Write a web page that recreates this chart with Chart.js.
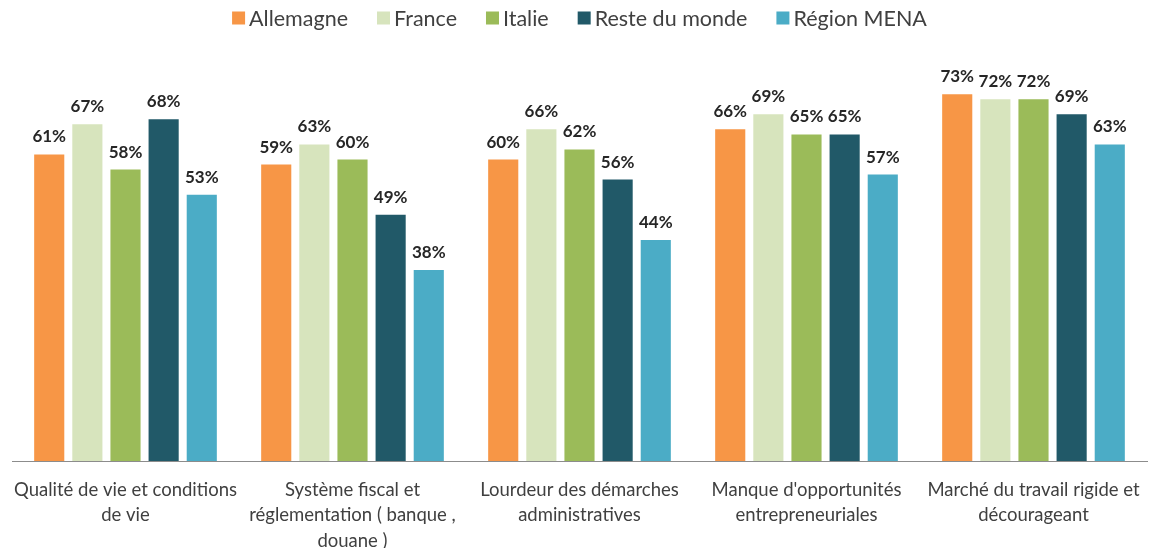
<!DOCTYPE html>
<html lang="fr">
<head>
<meta charset="utf-8">
<title>Freins à l'installation</title>
<script src="https://cdn.jsdelivr.net/npm/chart.js@4.4.1/dist/chart.umd.min.js"></script>
<style>
    html, body { margin: 0; padding: 0; background: #fff; }
    #wrap { width: 1150px; height: 548px; position: relative; }
</style>
</head>
<body>
<div id="wrap"><canvas id="freinsChart"></canvas></div>
<script>
const categories = [
    ['Qualité de vie et conditions', 'de vie'],
    ['Système fiscal et', 'réglementation ( banque ,', 'douane )'],
    ['Lourdeur des démarches', 'administratives'],
    ["Manque d'opportunités", 'entrepreneuriales'],
    ['Marché du travail rigide et', 'décourageant']
];
const seriesNames = ['Allemagne', 'France', 'Italie', 'Reste du monde', 'Région MENA'];
const allemagne = [61, 59, 60, 66, 73];
const france = [67, 63, 66, 69, 72];
const italie = [58, 60, 62, 65, 72];
const resteMonde = [68, 49, 56, 65, 69];
const regionMena = [53, 38, 44, 57, 63];
const seriesColors = ['#F79646', '#D7E4BD', '#9BBB59', '#215968', '#4BACC6'];

const FONT = 'Lato, "Open Sans", sans-serif';

// writes the percentage above each bar
const valueLabels = {
    id: 'valueLabels',
    afterDatasetsDraw(chart) {
        const ctx = chart.ctx;
        ctx.save();
        ctx.font = `bold 17px ${FONT}`;
        ctx.fillStyle = '#262626';
        ctx.textAlign = 'center';
        ctx.textBaseline = 'alphabetic';
        chart.data.datasets.forEach((ds, i) => {
            chart.getDatasetMeta(i).data.forEach((bar, j) => {
                ctx.fillText(ds.data[j] + '%', bar.x, bar.y - 12);
            });
        });
        ctx.restore();
    }
};

// compact legend row: small square, tight gap, then the series name
const topLegend = {
    id: 'topLegend',
    afterDraw(chart) {
        const ctx = chart.ctx;
        const box = 13, gap = 4, spacing = 29, midY = 18;
        ctx.save();
        ctx.font = `21.5px ${FONT}`;
        ctx.textBaseline = 'middle';
        const items = chart.data.datasets.map(ds => ({
            text: ds.label,
            color: ds.backgroundColor,
            w: ctx.measureText(ds.label).width
        }));
        const total = items.reduce((s, it) => s + box + gap + it.w, 0) + spacing * (items.length - 1);
        let x = (chart.chartArea.left + chart.chartArea.right) / 2 - total / 2;
        items.forEach(it => {
            ctx.fillStyle = it.color;
            ctx.fillRect(x, midY - box / 2, box, box);
            ctx.fillStyle = '#404040';
            ctx.fillText(it.text, x + box + gap, midY + 1);
            x += box + gap + it.w + spacing;
        });
        ctx.restore();
    }
};

const rows = [allemagne, france, italie, resteMonde, regionMena];

new Chart(document.getElementById('freinsChart'), {
    type: 'bar',
    data: {
        labels: categories,
        datasets: rows.map((values, i) => ({
            label: seriesNames[i],
            data: values,
            backgroundColor: seriesColors[i],
            borderWidth: 0,
            categoryPercentage: 0.84,
            barPercentage: 0.79
        }))
    },
    options: {
        responsive: true,
        maintainAspectRatio: false,
        animation: false,
        layout: { padding: { left: 12, right: 3, top: 59, bottom: 0 } },
        plugins: {
            legend: { display: false },
            tooltip: { enabled: false }
        },
        scales: {
            x: {
                grid: { display: false, drawTicks: false },
                border: { display: true, color: '#8C8C8C', width: 1 },
                afterFit(scale) {
                    scale.height = 87;
                    scale.paddingLeft = 0;
                    scale.paddingRight = 0;
                },
                ticks: {
                    color: '#404040',
                    font: { family: FONT, size: 18.5, lineHeight: 1.38 },
                    padding: 16,
                    maxRotation: 0,
                    autoSkip: false
                }
            },
            y: {
                display: false,
                min: 0,
                max: 80
            }
        }
    },
    plugins: [valueLabels, topLegend]
});
</script>
</body>
</html>
